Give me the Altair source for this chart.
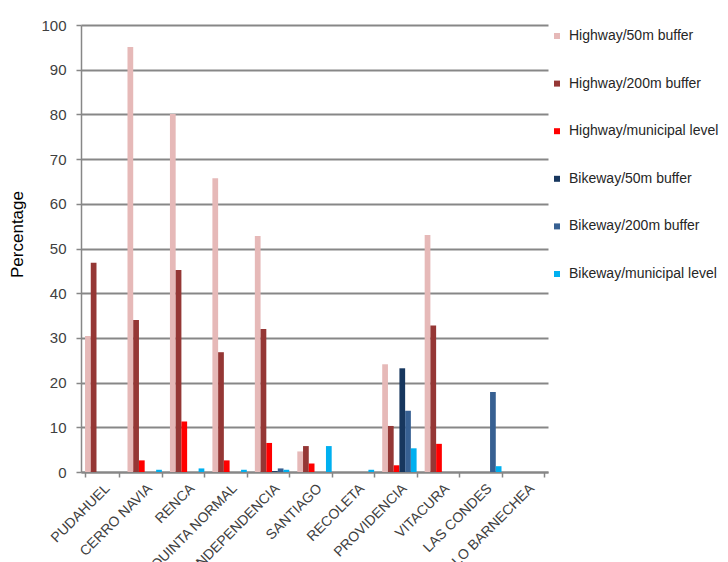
import altair as alt
import pandas as pd

communes = ["PUDAHUEL", "CERRO NAVIA", "RENCA", "QUINTA NORMAL", "INDEPENDENCIA",
            "SANTIAGO", "RECOLETA", "PROVIDENCIA", "VITACURA", "LAS CONDES",
            "LO BARNECHEA"]

series = ["Highway/50m buffer", "Highway/200m buffer", "Highway/municipal level",
          "Bikeway/50m buffer", "Bikeway/200m buffer", "Bikeway/municipal level"]

colors = ["#E6B9B8", "#953735", "#FF0000", "#17375E", "#376092", "#00B0F0"]

highway_50m = [30.4, 95.1, 80.1, 65.7, 52.8, 4.6, 0.0, 24.1, 53.0, 0.0, 0.0]
highway_200m = [46.8, 34.0, 45.2, 26.8, 32.0, 5.8, 0.0, 10.3, 32.8, 0.0, 0.0]
highway_municipal = [0.0, 2.6, 11.3, 2.6, 6.5, 1.9, 0.0, 1.5, 6.3, 0.0, 0.0]
bikeway_50m = [0.0, 0.0, 0.0, 0.0, 0.2, 0.0, 0.0, 23.2, 0.0, 0.0, 0.0]
bikeway_200m = [0.0, 0.0, 0.0, 0.0, 0.8, 0.0, 0.0, 13.7, 0.0, 17.9, 0.0]
bikeway_municipal = [0.0, 0.5, 0.8, 0.5, 0.5, 5.8, 0.5, 5.3, 0.0, 1.3, 0.0]

values = [highway_50m, highway_200m, highway_municipal,
          bikeway_50m, bikeway_200m, bikeway_municipal]

rows = []
for name, vals in zip(series, values):
    for commune, v in zip(communes, vals):
        rows.append({"Commune": commune, "Series": name, "Percentage": v})
df = pd.DataFrame(rows)

FONT = "Liberation Sans"
GRID = "#878787"

chart = alt.Chart(df).mark_bar().encode(
    x=alt.X(
        "Commune:N",
        sort=communes,
        scale=alt.Scale(paddingInner=0.19, paddingOuter=0.095),
        axis=alt.Axis(
            title=None,
            labelAngle=315,
            labelAlign="right",
            labelBaseline="top",
            labelFontSize=14,
            labelColor="#404040",
            labelFont=FONT,
            labelPadding=4,
            tickBand="extent",
            tickColor=GRID,
            tickSize=5,
            tickWidth=1.5,
            domainColor=GRID,
            domainWidth=2,
            grid=False,
        ),
    ),
    xOffset=alt.XOffset("Series:N", sort=series,
                        scale=alt.Scale(paddingInner=0, paddingOuter=0)),
    y=alt.Y(
        "Percentage:Q",
        scale=alt.Scale(domain=[0, 100], nice=False),
        axis=alt.Axis(
            title="Percentage",
            titleFont=FONT,
            titleFontSize=17,
            titleFontWeight="normal",
            titleColor="#000000",
            titlePadding=14,
            titleY=209,
            values=list(range(0, 101, 10)),
            labelFont=FONT,
            labelFontSize=15,
            labelColor="#404040",
            labelPadding=10,
            tickColor=GRID,
            tickSize=5,
            tickWidth=1.5,
            domainColor=GRID,
            domainWidth=1.5,
            gridColor=GRID,
            gridWidth=2,
        ),
    ),
    color=alt.Color(
        "Series:N",
        sort=series,
        scale=alt.Scale(domain=series, range=colors),
        legend=alt.Legend(
            title=None,
            orient="none",
            legendX=469,
            legendY=4,
            symbolType="square",
            symbolSize=36,
            symbolStrokeWidth=0,
            labelFont=FONT,
            labelFontSize=14,
            labelColor="#262626",
            labelOffset=5,
            rowPadding=33.6,
            labelLimit=300,
        ),
    ),
).properties(
    width=467,
    height=447,
    background="white",
    autosize=alt.AutoSizeParams(type="none"),
    padding={"left": 81, "top": 25, "right": 180, "bottom": 90},
).configure_view(stroke=None)

chart.save("out.html", embed_options={"renderer": "svg", "actions": False})
